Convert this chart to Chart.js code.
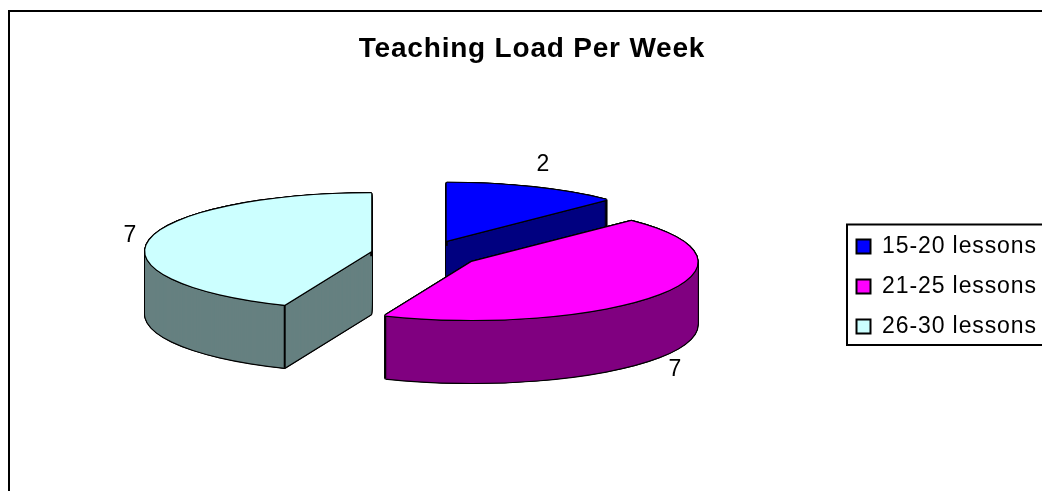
<!DOCTYPE html>
<html><head><meta charset="utf-8">
<style>html,body{margin:0;padding:0;background:#fff;overflow:hidden}#wrap{width:1042px;height:491px}</style>
<script src="https://cdn.jsdelivr.net/npm/chart.js@4/dist/chart.umd.min.js"></script>
</head><body><div id="wrap"><canvas id="c" width="1042" height="491"></canvas></div>
<script>
const categories = ["15-20 lessons", "21-25 lessons", "26-30 lessons"];
const values = [2, 7, 7];
const topColors = ["#0000FF", "#FF00FF", "#CCFFFF"];
const wallColors = ["#000080", "#800080", "#668080"];
const titleText = "Teaching Load Per Week";

const FONT = "'Liberation Sans', Arial, sans-serif";
const R = 100, SX = 2.26, SY = 0.58, DEPTH = 63, CX = 425.5, CY = 254, EXPLODE = 24.5;
const labelSpots = [[543,165],[675,370],[130,236]];
const order = [2, 0, 1];

function paintArc(ctx, arc, color, dx, dy) {
  const saved = arc.options;
  arc.options = Object.assign({}, saved, {backgroundColor: color, borderWidth: 0, borderRadius: 0});
  const mid = (arc.startAngle + arc.endAngle) / 2;
  ctx.save();
  ctx.translate(CX + dx, CY + dy);
  ctx.scale(SX, SY);
  ctx.translate(Math.cos(mid) * EXPLODE - arc.x, Math.sin(mid) * EXPLODE - arc.y);
  arc.draw(ctx);
  ctx.restore();
  arc.options = saved;
}
const ring = [[-1.2,0],[1.2,0],[0,-1.2],[0,1.2],[-.85,-.85],[.85,-.85],[-.85,.85],[.85,.85]];

const pie3d = {
  id: 'pie3d',
  afterLayout(chart) {
    const lg = chart.legend;
    lg.left = 839.5; lg.right = 1042; lg.top = 218; lg.bottom = 491;
    const t = chart.titleBlock;
    if (!t.$wrapped) {
      t.$wrapped = true;
      const d = t.draw.bind(t);
      t.draw = function () { chart.ctx.letterSpacing = '0.8px'; d(); chart.ctx.letterSpacing = '0px'; };
      const l = lg.draw.bind(lg);
      lg.draw = function () { chart.ctx.letterSpacing = '0.9px'; l(); chart.ctx.letterSpacing = '0px'; };
    }
  },
  beforeDraw(chart) {
    const ctx = chart.ctx;
    ctx.save();
    ctx.strokeStyle = '#000'; ctx.lineWidth = 2;
    ctx.beginPath();
    ctx.moveTo(9, 491); ctx.lineTo(9, 11); ctx.lineTo(1042, 11);
    ctx.stroke();
    ctx.lineWidth = 2;
    ctx.strokeRect(847, 224.5, 210, 120.5);
    ctx.restore();
  },
  beforeDatasetsDraw(chart) {
    const ctx = chart.ctx;
    const arcs = chart.getDatasetMeta(0).data;
    order.forEach(i => {
      const arc = arcs[i];
      for (let d = DEPTH; d >= 0; d -= 1) ring.forEach(o => paintArc(ctx, arc, '#000', o[0], d + o[1]));
      for (let d = DEPTH; d >= 0; d -= 1) paintArc(ctx, arc, wallColors[i], 0, d);
      const mid = (arc.startAngle + arc.endAngle) / 2;
      [arc.startAngle, arc.endAngle].forEach(a => {
        const x = CX + SX * (Math.cos(mid) * EXPLODE + Math.cos(a) * R);
        const y = CY + SY * (Math.sin(mid) * EXPLODE + Math.sin(a) * R);
        ctx.save();
        ctx.strokeStyle = '#000'; ctx.lineWidth = 2;
        ctx.beginPath(); ctx.moveTo(x, y); ctx.lineTo(x, y + DEPTH); ctx.stroke();
        ctx.restore();
      });
      ring.forEach(o => paintArc(ctx, arc, '#000', o[0], o[1]));
      paintArc(ctx, arc, topColors[i], 0, 0);
    });
    return false;
  },
  afterDraw(chart) {
    const ctx = chart.ctx;
    ctx.save();
    ctx.fillStyle = '#000';
    ctx.font = '23px ' + FONT;
    ctx.textAlign = 'center';
    ctx.textBaseline = 'middle';
    values.forEach((v, i) => ctx.fillText(String(v), labelSpots[i][0], labelSpots[i][1]));
    ctx.restore();
  }
};

new Chart(document.getElementById('c'), {
  type: 'pie',
  data: {
    labels: categories,
    datasets: [{
      data: values,
      backgroundColor: topColors,
      borderColor: '#000',
      borderWidth: 2
    }]
  },
  options: {
    responsive: false,
    animation: false,
    radius: R,
    layout: {padding: {left: 22, right: 0, top: 0, bottom: 0}},
    plugins: {
      tooltip: {enabled: false},
      title: {
        display: true,
        text: titleText,
        color: '#000',
        font: {family: FONT, size: 28, weight: 'bold'},
        padding: {top: 32, bottom: 10}
      },
      legend: {
        display: true,
        position: 'right',
        align: 'start',
        labels: {
          color: '#000',
          boxWidth: 14,
          boxHeight: 14,
          padding: 17,
          font: {family: FONT, size: 23}
        }
      }
    }
  },
  plugins: [pie3d]
});
</script></body></html>
